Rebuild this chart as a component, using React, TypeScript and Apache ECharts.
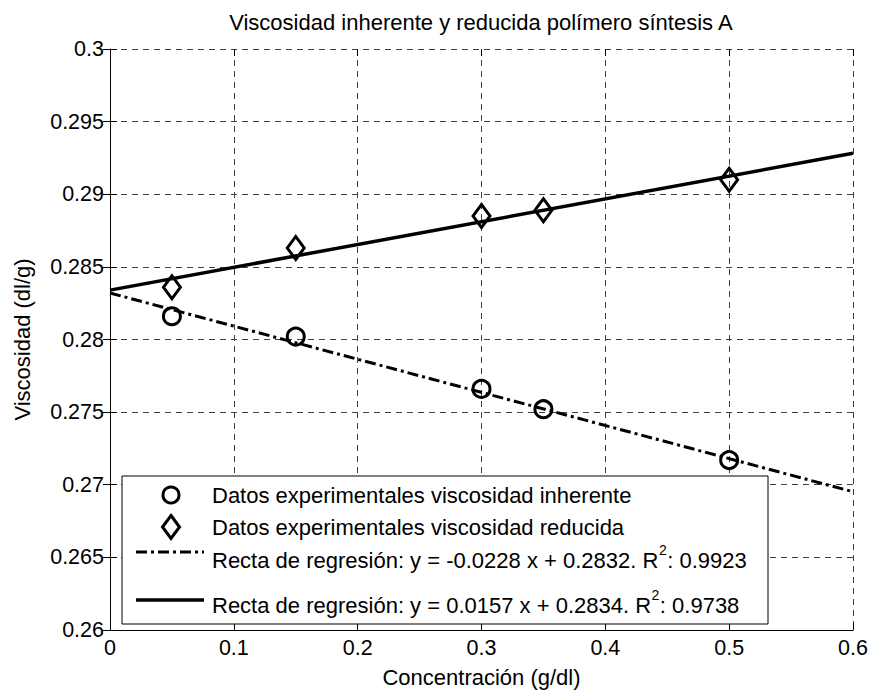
import React, { useEffect, useRef } from "react";
import * as echarts from "echarts";

const titleText = "Viscosidad inherente y reducida polímero síntesis A";
const xAxisName = "Concentración (g/dl)";
const yAxisName = "Viscosidad (dl/g)";
const concentration = [0.05, 0.15, 0.3, 0.35, 0.5];
const inherentVisc = [0.2816, 0.2802, 0.2766, 0.2752, 0.2717];
const reducedVisc = [0.2836, 0.2863, 0.2885, 0.2889, 0.291];
const fitSlopes = [-0.0228, 0.0157];
const fitIntercepts = [0.2832, 0.2834];
const fitR2 = ["0.9923", "0.9738"];
const fitRange = [0, 0.6];
const dataNames = [
  "Datos experimentales viscosidad inherente",
  "Datos experimentales viscosidad reducida",
];
const xTicks = { min: 0, max: 0.6, interval: 0.1 };
const yTicks = { min: 0.26, max: 0.3, interval: 0.005 };

const FONT = '"Liberation Sans", Arial, Helvetica, sans-serif';
const DASHDOT = [11, 4, 3, 4];

function measure(text: string, size: number): number {
  const c = document.createElement("canvas").getContext("2d");
  if (!c) return text.length * size * 0.5;
  c.font = `${size}px "Liberation Sans"`;
  return c.measureText(text).width;
}

export default function App() {
  const ref = useRef<HTMLDivElement>(null);
  useEffect(() => {
    if (!ref.current) return;
    const chart = echarts.init(ref.current, undefined, { renderer: "svg" });

    const W = 872;
    const gridLeft = 110, gridRight = 19, gridTop = 49, gridBottom = 59;
    const plotCenter = (gridLeft + (W - gridRight)) / 2;
    const titleSize = 22;
    const titleW = measure(titleText, titleSize);

    const fitLines = fitSlopes.map((s, i) =>
      fitRange.map((x) => [x, fitIntercepts[i] + s * x])
    );
    const fitMain = fitSlopes.map(
      (s, i) =>
        `Recta de regresión: y = ${s.toFixed(4)} x + ${fitIntercepts[i].toFixed(4)}. R`
    );
    const fitTail = fitR2.map((r) => `: ${r}`);

    // legend layout
    const legSize = 22;
    const supSize = 14;
    const lgX = 122, lgY = 476, lgW = 646, lgH = 148;
    const iconX0 = 136, iconX1 = 204, iconCx = 171, textX = 212;
    const rowText = [495, 527, 560, 605];
    const rowIcon = [495, 527, 552, 600];

    const txt = (text: string, x: number, y: number, size: number) => ({
      type: "text",
      x,
      y,
      style: {
        text,
        fontSize: size,
        fontFamily: FONT,
        fill: "#000",
        textAlign: "left",
        textVerticalAlign: "middle",
      },
      z: 101,
    });

    const legendEls: any[] = [
      {
        type: "rect",
        shape: { x: lgX, y: lgY, width: lgW, height: lgH },
        style: { fill: "#fff", stroke: "#000", lineWidth: 1 },
        z: 100,
      },
      {
        type: "circle",
        shape: { cx: iconCx, cy: rowIcon[0], r: 8 },
        style: { fill: "none", stroke: "#000", lineWidth: 3 },
        z: 101,
      },
      {
        type: "polygon",
        shape: {
          points: [
            [iconCx, rowIcon[1] - 11.5],
            [iconCx + 8.5, rowIcon[1]],
            [iconCx, rowIcon[1] + 11.5],
            [iconCx - 8.5, rowIcon[1]],
          ],
        },
        style: { fill: "none", stroke: "#000", lineWidth: 3 },
        z: 101,
      },
      {
        type: "line",
        shape: { x1: iconX0, y1: rowIcon[2], x2: iconX1, y2: rowIcon[2] },
        style: { stroke: "#000", lineWidth: 3, lineDash: DASHDOT },
        z: 101,
      },
      {
        type: "line",
        shape: { x1: iconX0, y1: rowIcon[3], x2: iconX1, y2: rowIcon[3] },
        style: { stroke: "#000", lineWidth: 3.5 },
        z: 101,
      },
    ];
    dataNames.forEach((n, i) => {
      legendEls.push(txt(n, textX, rowText[i], legSize));
    });
    fitMain.forEach((t, i) => {
      const y = rowText[2 + i];
      const w1 = measure(t, legSize);
      const w2 = measure("2", supSize);
      legendEls.push(txt(t, textX, y, legSize));
      legendEls.push(txt("2", textX + w1 + 0.5, y - 10, supSize));
      legendEls.push(txt(fitTail[i], textX + w1 + w2 + 1, y, legSize));
    });

    const splitStyle = { color: "#404040", width: 1, type: [6, 5] as any };
    const fmt = (v: number) => String(+v.toFixed(3));

    chart.setOption({
      animation: false,
      backgroundColor: "#fff",
      textStyle: { fontFamily: FONT },
      title: {
        text: titleText,
        left: plotCenter - titleW / 2,
        top: 11,
        padding: 0,
        textStyle: { fontSize: titleSize, fontWeight: "normal", color: "#000", fontFamily: FONT },
      },
      grid: { left: gridLeft, right: gridRight, top: gridTop, bottom: gridBottom },
      xAxis: [
        {
          type: "value",
          position: "bottom",
          ...xTicks,
          name: xAxisName,
          nameLocation: "middle",
          nameGap: 36,
          nameTextStyle: { fontSize: 22, color: "#000", fontFamily: FONT },
          axisLine: { show: true, onZero: false, lineStyle: { color: "#000", width: 1 } },
          axisTick: { show: true, inside: true, length: 7, lineStyle: { color: "#000" } },
          axisLabel: { fontSize: 21.5, color: "#000", margin: 7, formatter: fmt, fontFamily: FONT },
          splitLine: { show: true, lineStyle: splitStyle },
        },
        {
          type: "value",
          position: "top",
          ...xTicks,
          axisLine: { show: false },
          axisTick: { show: true, inside: true, length: 7, lineStyle: { color: "#000" } },
          axisLabel: { show: false },
          splitLine: { show: false },
        },
      ],
      yAxis: [
        {
          type: "value",
          position: "left",
          ...yTicks,
          name: yAxisName,
          nameLocation: "middle",
          nameGap: 77,
          nameTextStyle: { fontSize: 22, color: "#000", fontFamily: FONT },
          axisLine: { show: true, onZero: false, lineStyle: { color: "#000", width: 1 } },
          axisTick: { show: true, inside: true, length: 7, lineStyle: { color: "#000" } },
          axisLabel: { fontSize: 21.5, color: "#000", margin: 6, formatter: fmt, fontFamily: FONT },
          splitLine: { show: true, lineStyle: splitStyle },
        },
        {
          type: "value",
          position: "right",
          ...yTicks,
          axisLine: { show: false },
          axisTick: { show: true, inside: true, length: 7, lineStyle: { color: "#000" } },
          axisLabel: { show: false },
          splitLine: { show: false },
        },
      ],
      series: [
        {
          name: "fitInherent",
          type: "line",
          data: fitLines[0],
          showSymbol: false,
          symbol: "none",
          lineStyle: { color: "#000", width: 3, type: DASHDOT as any },
          z: 2,
        },
        {
          name: "fitReduced",
          type: "line",
          data: fitLines[1],
          showSymbol: false,
          symbol: "none",
          lineStyle: { color: "#000", width: 3.5, type: "solid" },
          z: 2,
        },
        {
          name: dataNames[0],
          type: "scatter",
          data: concentration.map((x, i) => [x, inherentVisc[i]]),
          symbol: "circle",
          symbolSize: 17,
          itemStyle: { color: "rgba(0,0,0,0)", borderColor: "#000", borderWidth: 3, opacity: 1 },
          z: 3,
        },
        {
          name: dataNames[1],
          type: "scatter",
          data: concentration.map((x, i) => [x, reducedVisc[i]]),
          symbol: "diamond",
          symbolSize: [17, 23],
          itemStyle: { color: "rgba(0,0,0,0)", borderColor: "#000", borderWidth: 3, opacity: 1 },
          z: 3,
        },
      ],
      graphic: { elements: legendEls },
    });

    return () => {
      chart.dispose();
    };
  }, []);

  return (
    <div
      ref={ref}
      style={{ position: "fixed", left: 0, top: 0, width: 872, height: 693, background: "#fff" }}
    />
  );
}
